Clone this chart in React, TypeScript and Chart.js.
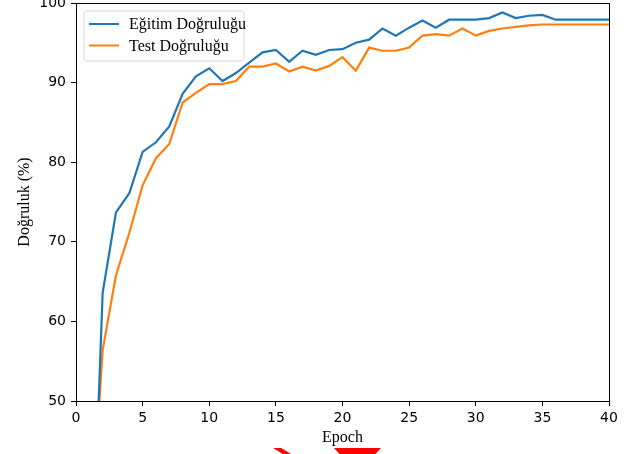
import React, { useEffect, useRef } from "react";
import { Chart, registerables } from "chart.js";

Chart.register(...registerables);

const epochs = [1, 2, 3, 4, 5, 6, 7, 8, 9, 10, 11, 12, 13, 14, 15, 16, 17, 18, 19, 20, 21, 22, 23, 24, 25, 26, 27, 28, 29, 30, 31, 32, 33, 34, 35, 36, 37, 38, 39, 40];
const trainAcc = [18, 63.6, 73.7, 76.1, 81.3, 82.5, 84.5, 88.6, 90.8, 91.8, 90.2, 91.2, 92.5, 93.8, 94.1, 92.6, 94.0, 93.5, 94.1, 94.2, 95.0, 95.4, 96.8, 95.9, 96.9, 97.8, 96.9, 97.9, 97.9, 97.9, 98.1, 98.8, 98.1, 98.4, 98.5, 97.9, 97.9, 97.9, 97.9, 97.9];
const testAcc = [30, 56.4, 65.8, 71.1, 77.1, 80.5, 82.3, 87.5, 88.7, 89.8, 89.8, 90.2, 92.0, 92.0, 92.4, 91.4, 92.0, 91.5, 92.1, 93.2, 91.5, 94.4, 94.0, 94.0, 94.4, 95.9, 96.1, 95.9, 96.8, 95.9, 96.5, 96.8, 97.0, 97.2, 97.3, 97.3, 97.3, 97.3, 97.3, 97.3];
const seriesLabels = ["Eğitim Doğruluğu", "Test Doğruluğu"];
const xTitle = "Epoch";
const yTitle = "Doğruluk (%)";

const serif = "'Liberation Serif', 'Times New Roman', serif";
const sans = "'DejaVu Sans', sans-serif";

const framePlugin = {
  id: "frame",
  afterDraw(chart: any) {
    const { ctx, chartArea } = chart;
    ctx.save();
    ctx.strokeStyle = "#000";
    ctx.lineWidth = 1;
    ctx.strokeRect(Math.round(chartArea.left) + 0.5, Math.round(chartArea.top) + 0.5, Math.round(chartArea.right - chartArea.left), Math.round(chartArea.bottom - chartArea.top));
    // legend
    const x0 = 84, y0 = 11, w = 160, h = 50, r = 3;
    ctx.beginPath();
    ctx.moveTo(x0 + r, y0);
    ctx.arcTo(x0 + w, y0, x0 + w, y0 + h, r);
    ctx.arcTo(x0 + w, y0 + h, x0, y0 + h, r);
    ctx.arcTo(x0, y0 + h, x0, y0, r);
    ctx.arcTo(x0, y0, x0 + w, y0, r);
    ctx.closePath();
    ctx.fillStyle = "rgba(255,255,255,0.8)";
    ctx.fill();
    ctx.strokeStyle = "#d6d6d6";
    ctx.lineWidth = 1;
    ctx.stroke();
    ctx.font = `16px ${serif}`;
    ctx.textBaseline = "middle";
    ctx.textAlign = "left";
    chart.data.datasets.forEach((ds: any, i: number) => {
      const yy = 24 + i * 21.5;
      ctx.strokeStyle = ds.borderColor;
      ctx.lineWidth = 2;
      ctx.beginPath();
      ctx.moveTo(89, yy);
      ctx.lineTo(119, yy);
      ctx.stroke();
      ctx.fillStyle = "#000";
      ctx.fillText(ds.label, 129, yy + 1);
    });
    ctx.restore();
  },
};

export default function App() {
  const ref = useRef<HTMLCanvasElement>(null);
  useEffect(() => {
    if (!ref.current) return;
    const chart = new Chart(ref.current, {
      type: "line",
      data: {
        datasets: [
          {
            label: seriesLabels[0],
            data: epochs.map((e, i) => ({ x: e, y: trainAcc[i] })),
            borderColor: "#1f77b4",
            backgroundColor: "#1f77b4",
            borderWidth: 2.2,
            pointRadius: 0,
            tension: 0,
          },
          {
            label: seriesLabels[1],
            data: epochs.map((e, i) => ({ x: e, y: testAcc[i] })),
            borderColor: "#ff7f0e",
            backgroundColor: "#ff7f0e",
            borderWidth: 2.2,
            pointRadius: 0,
            tension: 0,
          },
        ],
      },
      options: {
        animation: false,
        responsive: false,
        maintainAspectRatio: false,
        layout: { padding: { top: 3, right: 18, left: 0, bottom: 0 } },
        plugins: { legend: { display: false }, tooltip: { enabled: false } },
        scales: {
          x: {
            type: "linear",
            min: 0,
            max: 40,
            afterFit: (s: any) => { s.height = 53; s.paddingLeft = 0; s.paddingRight = 0; },
            ticks: { stepSize: 5, color: "#000", font: { family: sans, size: 14 }, padding: 4, maxRotation: 0 },
            grid: { drawOnChartArea: false, drawTicks: true, tickLength: 5, color: "#000" },
            border: { display: true, color: "#000" },
            title: { display: true, text: xTitle, color: "#000", font: { family: serif, size: 16 }, padding: { top: 0, bottom: 7 } },
          },
          y: {
            min: 50,
            max: 100,
            afterFit: (s: any) => { s.width = 76; s.paddingTop = 0; s.paddingBottom = 0; },
            ticks: { stepSize: 10, color: "#000", font: { family: sans, size: 14 }, padding: 5 },
            grid: { drawOnChartArea: false, drawTicks: true, tickLength: 5, color: "#000" },
            border: { display: true, color: "#000" },
            title: { display: true, text: yTitle, color: "#000", font: { family: serif, size: 16 }, padding: { top: 15, bottom: 0 } },
          },
        },
      },
      plugins: [framePlugin],
    } as any);
    return () => chart.destroy();
  }, []);
  return (
    <div style={{ position: "fixed", left: 0, top: 0, width: 627, height: 454, background: "#fff", overflow: "hidden" }}>
      <canvas ref={ref} width={627} height={454} style={{ display: "block" }} />
      <div style={{ position: "absolute", left: 273, top: 448, width: 18, height: 6, background: "#ff0000", clipPath: "polygon(0 0, 45% 0, 100% 100%, 55% 100%)" }} />
      <div style={{ position: "absolute", left: 334, top: 448, width: 47, height: 6, background: "#ff0000", clipPath: "polygon(0 0, 100% 0, 88% 100%, 12% 100%)" }} />
    </div>
  );
}
